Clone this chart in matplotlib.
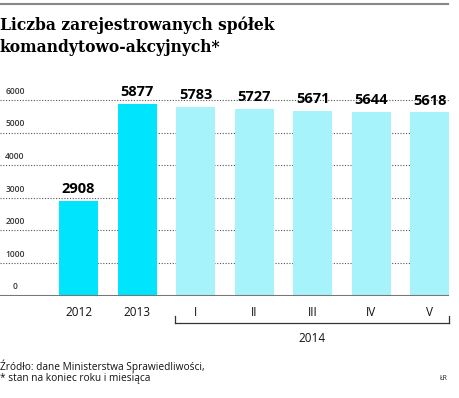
import matplotlib.pyplot as plt

# dane
kategorie = ['2012', '2013', 'I', 'II', 'III', 'IV', 'V']
wartosci = [2908, 5877, 5783, 5727, 5671, 5644, 5618]
kolory = ['#00e4fd', '#00e4fd', '#a6f3fb', '#a6f3fb', '#a6f3fb', '#a6f3fb', '#a6f3fb']
yticks = [0, 1000, 2000, 3000, 4000, 5000, 6000]

fig = plt.figure(figsize=(4.6, 3.98), dpi=100)

# pozycja osi w pikselach: x 0..449, y 0 przy 295 px od góry
W, H = 460, 398
y0, y6000 = 295.5, 100
skala = (y0 - y6000) / 6000
ymax = 6300
ax = fig.add_axes([0, (H - y0) / H, 449 / W, ymax * skala / H])
ax.set_xlim(-1.342, 6.33)
ax.set_ylim(0, ymax)

x = list(range(len(kategorie)))
ax.bar(x, wartosci, width=0.667, color=kolory, zorder=2)

for t in yticks[1:]:
    ax.axhline(t, color='#555555', lw=0.8, ls=(0, (1, 1.5)), zorder=1)
for t in yticks:
    ax.text(-1.085, t + 130, str(t), fontsize=6, color='#333333',
            ha='center', va='bottom', family='Open Sans', fontweight='semibold')
ax.axhline(0, color='#777777', lw=1.5, zorder=3)

for xi, v in zip(x, wartosci):
    ax.text(xi, v + 150, str(v), ha='center', va='bottom', fontsize=10.5,
            fontweight='bold', family='Open Sans', color='black', clip_on=False)

ax.axis('off')

# etykiety kategorii
for xi, k in zip(x, kategorie):
    fig.text(ax.transData.transform((xi, 0))[0] / W, 1 - 312 / H, k,
             ha='center', va='center', fontsize=8.5, family='Open Sans', color='#111111')

# nawias 2014
lx = 175 / W
rx = 449 / W
yb = 1 - 323 / H
fig.add_artist(plt.Line2D([lx, rx], [yb, yb], color='#333333', lw=0.9))
fig.add_artist(plt.Line2D([lx, lx], [yb, yb + 7 / H], color='#333333', lw=0.9))
fig.add_artist(plt.Line2D([rx, rx], [yb, yb + 7 / H], color='#333333', lw=0.9))
fig.text(312 / W, 1 - 338 / H, '2014', ha='center', va='center', fontsize=8.5,
         family='Open Sans', color='#111111')

# tytuł
fig.add_artist(plt.Line2D([0, 448 / W], [1 - 4 / H, 1 - 4 / H], color='#888888', lw=1.5))
fig.text(0, 1 - 25 / H, 'Liczba zarejestrowanych spółek', ha='left', va='center',
         fontsize=11.2, fontweight='bold', family='DejaVu Serif')
fig.text(0, 1 - 48 / H, 'komandytowo-akcyjnych*', ha='left', va='center',
         fontsize=11.2, fontweight='bold', family='DejaVu Serif')

# źródło
fig.text(0, 1 - 384 / H, 'Źródło: dane Ministerstwa Sprawiedliwości,\n* stan na koniec roku i miesiąca',
         ha='left', va='bottom', fontsize=7.3, family='Open Sans', color='#111111',
         linespacing=0.95)
fig.text(448 / W, 1 - 378 / H, 'ŁR', ha='right', va='center',
         fontsize=5, family='Open Sans', color='#222222')

fig.savefig('out.png', dpi=100, facecolor='white')
